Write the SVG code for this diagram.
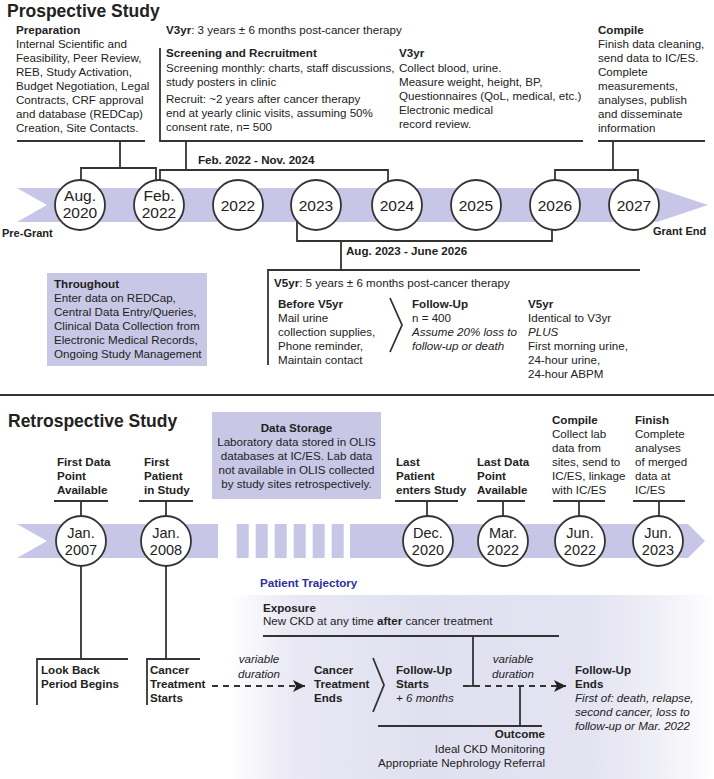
<svg xmlns="http://www.w3.org/2000/svg" width="714" height="779" viewBox="0 0 714 779">
<defs>
<style>
text{font-family:"Liberation Sans",Arial,sans-serif;font-size:11.6px;fill:#222}
.b{font-weight:bold}
.i{font-style:italic}
.h{font-size:17.5px;font-weight:bold}
.c{font-size:15.5px;text-anchor:middle}
.cr{font-size:14.5px;text-anchor:middle}
.m{text-anchor:middle}
.r{text-anchor:end}
.ln{stroke:#333;stroke-width:1.8;fill:none}
.dash{stroke:#333;stroke-width:1.8;fill:none;stroke-dasharray:6 5}
.band{fill:#c8c6e6}
.box{fill:#c9c7e6}
.circ{fill:#fff;stroke:#333;stroke-width:1.8}
.blue{fill:#2e2e9e;font-weight:bold}
</style>
<marker id="ah" markerUnits="userSpaceOnUse" markerWidth="13" markerHeight="12" refX="12" refY="6" orient="auto">
<path d="M0,0 L12,6 L0,12 L3,6 Z" fill="#222"/>
</marker>
<linearGradient id="traj" x1="230" y1="0" x2="714" y2="0" gradientUnits="userSpaceOnUse">
<stop offset="0" stop-color="#ffffff"/>
<stop offset="0.13" stop-color="#e9e8f4"/>
<stop offset="0.4" stop-color="#e1e0f0"/>
<stop offset="0.75" stop-color="#e4e3f2"/>
<stop offset="0.9" stop-color="#f1f1f8"/>
<stop offset="1" stop-color="#ffffff"/>
</linearGradient>
</defs>
<rect width="714" height="779" fill="#fff"/>

<!-- ===== Prospective ===== -->
<text class="h" x="7" y="17">Prospective Study</text>

<polygon class="band" points="17,188 657,188 708,205 657,222 17,222 47,205"/>
<text class="b" x="2" y="237" style="font-size:11px">Pre-Grant</text>
<text class="b" x="653" y="235" style="font-size:11px">Grant End</text>

<g id="preparation">
<text class="b" x="16" y="34">Preparation</text>
<text x="16" y="48">Internal Scientific and</text>
<text x="16" y="62">Feasibility, Peer Review,</text>
<text x="16" y="76">REB, Study Activation,</text>
<text x="16" y="90">Budget Negotiation, Legal</text>
<text x="16" y="104">Contracts, CRF approval</text>
<text x="16" y="118">and database (REDCap)</text>
<text x="16" y="132">Creation, Site Contacts.</text>
</g>

<g id="v3yr-title">
<text x="166" y="34"><tspan class="b">V3yr</tspan>: 3 years ± 6 months post-cancer therapy</text>
</g>

<g id="screening">
<text class="b" x="166" y="57">Screening and Recruitment</text>
<text x="166" y="71.5">Screening monthly: charts, staff discussions,</text>
<text x="166" y="85.5">study posters in clinic</text>
<text x="166" y="103">Recruit: ~2 years after cancer therapy</text>
<text x="166" y="117">end at yearly clinic visits, assuming 50%</text>
<text x="166" y="131">consent rate, n= 500</text>
</g>

<g id="v3yr">
<text class="b" x="399" y="57">V3yr</text>
<text x="399" y="71.5">Collect blood, urine.</text>
<text x="399" y="85.5">Measure weight, height, BP,</text>
<text x="399" y="99.5">Questionnaires (QoL, medical, etc.)</text>
<text x="399" y="113.5">Electronic medical</text>
<text x="399" y="127.5">record review.</text>
</g>

<g id="compile-pro">
<text class="b" x="598" y="34">Compile</text>
<text x="598" y="48">Finish data cleaning,</text>
<text x="598" y="62">send data to IC/ES.</text>
<text x="598" y="76">Complete</text>
<text x="598" y="90">measurements,</text>
<text x="598" y="104">analyses, publish</text>
<text x="598" y="118">and disseminate</text>
<text x="598" y="132">information</text>
</g>

<g id="throughout">
<rect class="box" x="47" y="273" width="160" height="93"/>
<text class="b" x="54" y="288">Throughout</text>
<text x="54" y="302">Enter data on REDCap,</text>
<text x="54" y="316">Central Data Entry/Queries,</text>
<text x="54" y="330">Clinical Data Collection from</text>
<text x="54" y="344">Electronic Medical Records,</text>
<text x="54" y="358">Ongoing Study Management</text>
</g>

<g id="v5yr">
<text x="274" y="287"><tspan class="b">V5yr</tspan>: 5 years ± 6 months post-cancer therapy</text>
<text class="b" x="278" y="308">Before V5yr</text>
<text x="278" y="322">Mail urine</text>
<text x="278" y="336">collection supplies,</text>
<text x="278" y="350">Phone reminder,</text>
<text x="278" y="364">Maintain contact</text>
<polyline class="ln" points="390,298 402,325 390,352"/>
<text class="b" x="412" y="308">Follow-Up</text>
<text x="412" y="322">n = 400</text>
<text class="i" x="412" y="336">Assume 20% loss to</text>
<text class="i" x="412" y="350">follow-up or death</text>
<text class="b" x="528" y="308">V5yr</text>
<text x="528" y="322">Identical to V3yr</text>
<text class="i" x="528" y="336">PLUS</text>
<text x="528" y="350">First morning urine,</text>
<text x="528" y="364">24-hour urine,</text>
<text x="528" y="378">24-hour ABPM</text>
</g>

<g id="pro-connectors">
<polyline class="ln" points="17,141 145,141"/>
<polyline class="ln" points="120,141 120,168"/>
<polyline class="ln" points="81,181 81,168 156,168 156,181"/>
<polyline class="ln" points="160,48 160,141 583,141"/>
<polyline class="ln" points="186,141 186,170"/>
<polyline class="ln" points="160,181 160,170 388,170 388,182"/>
<polyline class="ln" points="598,141 705,141"/>
<polyline class="ln" points="613,141 613,170"/>
<polyline class="ln" points="555,181 555,170 638,170 638,181"/>
<polyline class="ln" points="297,220 297,241 552,241 552,229"/>
<polyline class="ln" points="341,241 341,270"/>
<polyline class="ln" points="268,365 268,270 640,270"/>
<text class="b" x="198" y="164">Feb. 2022 - Nov. 2024</text>
<text class="b" x="346" y="255">Aug. 2023 - June 2026</text>
</g>

<g id="pro-circles">
<g id="c-aug2020"><circle class="circ" cx="80" cy="205" r="25"/><text class="c" x="80" y="201">Aug.</text><text class="c" x="80" y="217.5">2020</text></g>
<g id="c-feb2022"><circle class="circ" cx="159" cy="205" r="25"/><text class="c" x="159" y="201">Feb.</text><text class="c" x="159" y="217.5">2022</text></g>
<g id="c-2022"><circle class="circ" cx="238" cy="205" r="25"/><text class="c" x="238" y="211">2022</text></g>
<g id="c-2023"><circle class="circ" cx="316" cy="205" r="25"/><text class="c" x="316" y="211">2023</text></g>
<g id="c-2024"><circle class="circ" cx="397" cy="205" r="25"/><text class="c" x="397" y="211">2024</text></g>
<g id="c-2025"><circle class="circ" cx="476" cy="205" r="25"/><text class="c" x="476" y="211">2025</text></g>
<g id="c-2026"><circle class="circ" cx="555" cy="205" r="25"/><text class="c" x="555" y="211">2026</text></g>
<g id="c-2027"><circle class="circ" cx="634" cy="205" r="25"/><text class="c" x="634" y="211">2027</text></g>
</g>

<line class="ln" x1="0" y1="395" x2="714" y2="395"/>

<!-- ===== Retrospective ===== -->
<text class="h" x="8" y="427">Retrospective Study</text>

<g id="data-storage">
<rect class="box" x="212" y="412" width="169" height="87"/>
<text class="b m" x="296.5" y="432">Data Storage</text>
<text class="m" x="296.5" y="446">Laboratory data stored in OLIS</text>
<text class="m" x="296.5" y="459.5">databases at IC/ES. Lab data</text>
<text class="m" x="296.5" y="473.5">not available in OLIS collected</text>
<text class="m" x="296.5" y="487.5">by study sites retrospectively.</text>
</g>

<g id="retro-band">
<polygon class="band" points="17,524 218,524 218,558 17,558 47,541"/>
<rect class="band" x="236.7" y="524" width="12" height="34"/>
<rect class="band" x="255.7" y="524" width="12" height="34"/>
<rect class="band" x="274.7" y="524" width="12" height="34"/>
<rect class="band" x="293.7" y="524" width="12" height="34"/>
<rect class="band" x="312.7" y="524" width="12" height="34"/>
<rect class="band" x="331.7" y="524" width="12" height="34"/>
<polygon class="band" points="350,524 688,524 705,541 688,558 350,558"/>
</g>

<g id="retro-labels">
<text class="b" x="57" y="466">First Data</text>
<text class="b" x="57" y="480">Point</text>
<text class="b" x="57" y="494">Available</text>
<text class="b" x="144" y="466">First</text>
<text class="b" x="144" y="480">Patient</text>
<text class="b" x="144" y="494">in Study</text>
<text class="b" x="396" y="466">Last</text>
<text class="b" x="396" y="480">Patient</text>
<text class="b" x="396" y="494">enters Study</text>
<text class="b" x="477" y="466">Last Data</text>
<text class="b" x="477" y="480">Point</text>
<text class="b" x="477" y="494">Available</text>
<text class="b" x="552" y="424">Compile</text>
<text x="552" y="438">Collect lab</text>
<text x="552" y="452">data from</text>
<text x="552" y="466">sites, send to</text>
<text x="552" y="480">IC/ES, linkage</text>
<text x="552" y="494">with IC/ES</text>
<text class="b" x="635" y="424">Finish</text>
<text x="635" y="438">Complete</text>
<text x="635" y="452">analyses</text>
<text x="635" y="466">of merged</text>
<text x="635" y="480">data at</text>
<text x="635" y="494">IC/ES</text>
</g>

<g id="retro-connectors">
<polyline class="ln" points="54,501 108,501"/><line class="ln" x1="81" y1="501" x2="81" y2="516"/>
<polyline class="ln" points="139,501 193,501"/><line class="ln" x1="166" y1="501" x2="166" y2="516"/>
<polyline class="ln" points="395,501 458,501"/><line class="ln" x1="427" y1="501" x2="427" y2="516"/>
<polyline class="ln" points="477,501 525,501"/><line class="ln" x1="503" y1="501" x2="503" y2="516"/>
<polyline class="ln" points="553,501 605,501"/><line class="ln" x1="579" y1="501" x2="579" y2="516"/>
<polyline class="ln" points="633,501 685,501"/><line class="ln" x1="659" y1="501" x2="659" y2="516"/>
<line class="ln" x1="81" y1="566" x2="81" y2="659"/>
<line class="ln" x1="166" y1="566" x2="166" y2="659"/>
<polyline class="ln" points="37,705 37,659 128,659"/>
<polyline class="ln" points="147,705 147,659 200,659"/>
</g>

<g id="retro-circles">
<g id="c-jan2007"><circle class="circ" cx="81" cy="541" r="25"/><text class="cr" x="81" y="538">Jan.</text><text class="cr" x="81" y="555">2007</text></g>
<g id="c-jan2008"><circle class="circ" cx="166" cy="541" r="25"/><text class="cr" x="166" y="538">Jan.</text><text class="cr" x="166" y="555">2008</text></g>
<g id="c-dec2020"><circle class="circ" cx="428" cy="541" r="25"/><text class="cr" x="428" y="538">Dec.</text><text class="cr" x="428" y="555">2020</text></g>
<g id="c-mar2022"><circle class="circ" cx="503" cy="541" r="25"/><text class="cr" x="503" y="538">Mar.</text><text class="cr" x="503" y="555">2022</text></g>
<g id="c-jun2022"><circle class="circ" cx="580" cy="541" r="25"/><text class="cr" x="580" y="538">Jun.</text><text class="cr" x="580" y="555">2022</text></g>
<g id="c-jun2023"><circle class="circ" cx="658" cy="541" r="25"/><text class="cr" x="658" y="538">Jun.</text><text class="cr" x="658" y="555">2023</text></g>
</g>

<g id="look-back">
<text class="b" x="41" y="674">Look Back</text>
<text class="b" x="41" y="688">Period Begins</text>
</g>
<g id="tx-starts">
<text class="b" x="150" y="674">Cancer</text>
<text class="b" x="150" y="688">Treatment</text>
<text class="b" x="150" y="702">Starts</text>
</g>

<!-- Patient trajectory -->
<rect x="230" y="595" width="484" height="184" fill="url(#traj)"/>
<text class="blue" x="260" y="587">Patient Trajectory</text>

<g id="exposure">
<text class="b" x="263" y="612">Exposure</text>
<text x="263" y="625">New CKD at any time <tspan class="b">after</tspan> cancer treatment</text>
</g>

<g id="tx-ends">
<text class="b" x="314" y="674">Cancer</text>
<text class="b" x="314" y="688">Treatment</text>
<text class="b" x="314" y="702">Ends</text>
</g>
<g id="fu-starts">
<text class="b" x="396" y="674">Follow-Up</text>
<text class="b" x="396" y="688">Starts</text>
<text class="i" x="396" y="702">+ 6 months</text>
</g>
<g id="fu-ends">
<text class="b" x="575" y="674">Follow-Up</text>
<text class="b" x="575" y="688">Ends</text>
<text class="i" x="575" y="702">First of: death, relapse,</text>
<text class="i" x="575" y="716">second cancer, loss to</text>
<text class="i" x="575" y="730">follow-up or Mar. 2022</text>
</g>
<g id="outcome">
<text class="b r" x="545" y="738">Outcome</text>
<text class="r" x="545" y="752.5">Ideal CKD Monitoring</text>
<text class="r" x="545" y="766.5">Appropriate Nephrology Referral</text>
</g>

<g id="traj-connectors">
<line class="dash" x1="212" y1="686" x2="305" y2="686" marker-end="url(#ah)"/>
<text class="i m" x="259" y="663">variable</text>
<text class="i m" x="259" y="677.5">duration</text>
<polyline class="ln" points="373,658 384,685 373,712"/>
<line class="ln" x1="263" y1="636" x2="559" y2="636"/>
<line class="ln" x1="473" y1="636" x2="473" y2="686"/>
<line class="ln" x1="469" y1="686" x2="477" y2="686"/>
<line class="dash" x1="463" y1="686" x2="566" y2="686" marker-end="url(#ah)"/>
<text class="i m" x="513" y="663">variable</text>
<text class="i m" x="513" y="677.5">duration</text>
<line class="ln" x1="520" y1="686" x2="520" y2="726"/>
<line class="ln" x1="378" y1="726" x2="542" y2="726"/>
</g>
</svg>
